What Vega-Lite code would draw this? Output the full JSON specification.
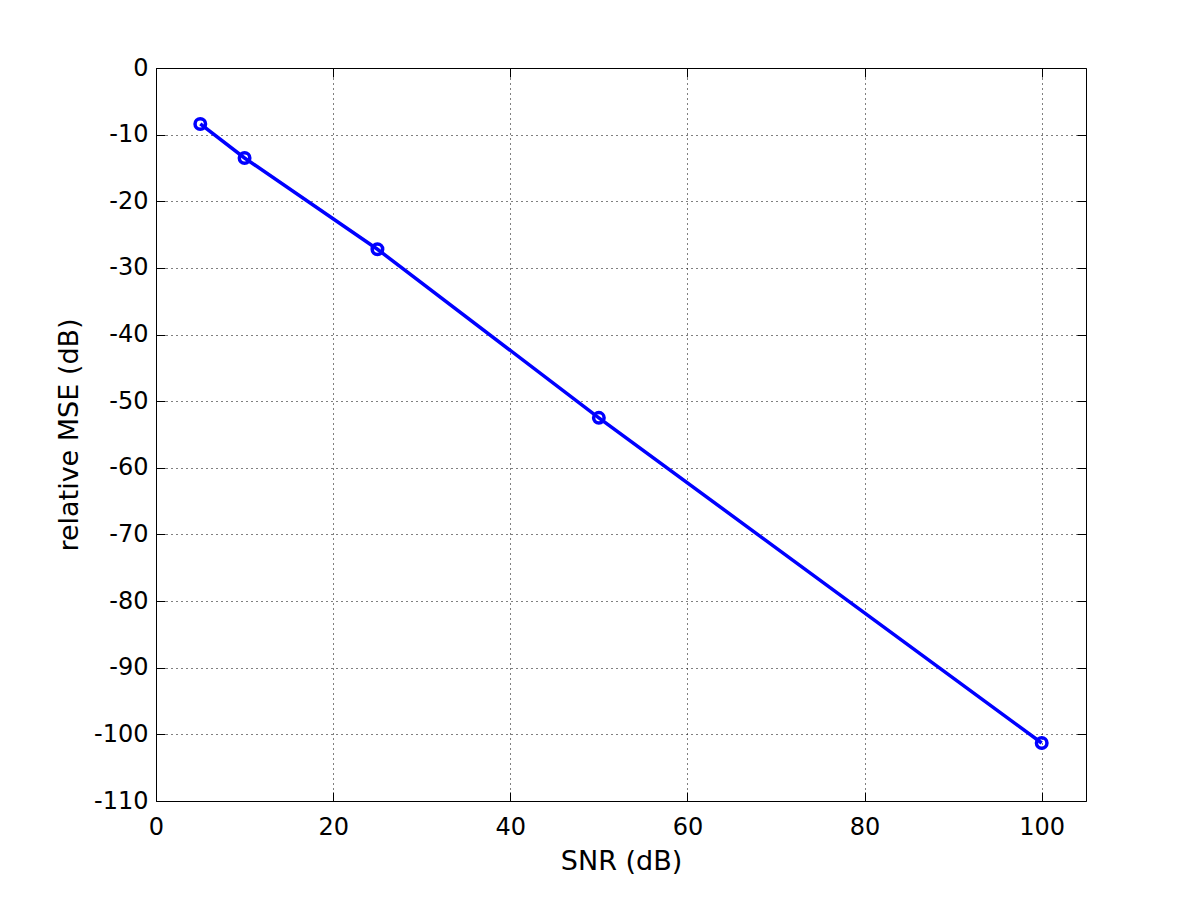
{
  "$schema": "https://vega.github.io/schema/vega-lite/v6.json",
  "width": 930,
  "height": 733,
  "autosize": {"type": "none"},
  "padding": {"left": 156, "top": 68, "right": 114, "bottom": 99},
  "background": "white",
  "config": {
    "view": {"stroke": "black", "strokeWidth": 1},
    "axis": {
      "labelFont": "DejaVu Sans",
      "labelFontSize": 24,
      "labelColor": "black",
      "titleFont": "DejaVu Sans",
      "titleFontSize": 27,
      "titleFontWeight": "normal",
      "titleColor": "black",
      "domain": false,
      "tickColor": "black",
      "tickSize": -9,
      "tickWidth": 1,
      "gridColor": "black",
      "gridDash": [1, 4],
      "gridOpacity": 1,
      "gridWidth": 1,
      "labelFlush": false,
      "labelOverlap": false,
      "labelExpr": "datum.value + ''"
    }
  },
  "data": {
    "values": [
      {"snr": 5, "mse": -8.4},
      {"snr": 10, "mse": -13.5},
      {"snr": 25, "mse": -27.2},
      {"snr": 50, "mse": -52.5},
      {"snr": 100, "mse": -101.3}
    ]
  },
  "layer": [
    {
      "mark": {"type": "line", "color": "#0000ff", "strokeWidth": 3.5},
      "encoding": {
        "x": {
          "field": "snr", "type": "quantitative",
          "scale": {"domain": [0, 105], "nice": false, "zero": false},
          "axis": {"orient": "bottom", "values": [0, 20, 40, 60, 80, 100], "title": "SNR (dB)", "grid": true, "labelPadding": 23, "titlePadding": 9}
        },
        "y": {
          "field": "mse", "type": "quantitative",
          "scale": {"domain": [-110, 0], "nice": false, "zero": false},
          "axis": {"orient": "left", "values": [-110, -100, -90, -80, -70, -60, -50, -40, -30, -20, -10, 0], "title": "relative MSE (dB)", "grid": true, "labelPadding": 17, "titlePadding": 10}
        }
      }
    },
    {
      "mark": {"type": "point", "shape": "circle", "filled": false, "color": "#0000ff", "strokeWidth": 3.5, "size": 110, "opacity": 1},
      "encoding": {
        "x": {
          "field": "snr", "type": "quantitative",
          "scale": {"domain": [0, 105], "nice": false, "zero": false},
          "axis": {"orient": "top", "values": [0, 20, 40, 60, 80, 100], "title": null, "labels": false, "grid": false}
        },
        "y": {
          "field": "mse", "type": "quantitative",
          "scale": {"domain": [-110, 0], "nice": false, "zero": false},
          "axis": {"orient": "right", "values": [-110, -100, -90, -80, -70, -60, -50, -40, -30, -20, -10, 0], "title": null, "labels": false, "grid": false}
        }
      }
    }
  ],
  "resolve": {"axis": {"x": "independent", "y": "independent"}}
}
